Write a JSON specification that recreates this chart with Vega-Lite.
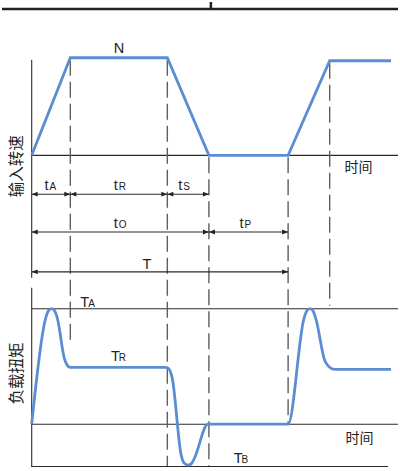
{
  "$schema": "https://vega.github.io/schema/vega-lite/v6.json",
  "width": 400,
  "height": 471,
  "autosize": {"type": "fit", "contains": "padding"},
  "padding": 0,
  "background": "white",
  "config": {"view": {"stroke": null}},
  "datasets": {
    "speed": [
      {"x": 30, "y": 154}, {"x": 69, "y": 56}, {"x": 167, "y": 56}, {"x": 209, "y": 154},
      {"x": 289, "y": 154}, {"x": 331, "y": 59}, {"x": 393, "y": 59}
    ],
    "torque": [
      {"x": 30, "y": 424}, {"x": 44, "y": 318}, {"x": 47, "y": 310}, {"x": 50, "y": 308},
      {"x": 53, "y": 310}, {"x": 56, "y": 318}, {"x": 63, "y": 358}, {"x": 66, "y": 365},
      {"x": 69, "y": 367}, {"x": 165, "y": 367}, {"x": 168, "y": 368}, {"x": 170, "y": 371},
      {"x": 172, "y": 378}, {"x": 181, "y": 455}, {"x": 184, "y": 463}, {"x": 188, "y": 465},
      {"x": 191, "y": 464}, {"x": 194, "y": 459}, {"x": 208, "y": 424}, {"x": 289, "y": 424},
      {"x": 305, "y": 318}, {"x": 308, "y": 310}, {"x": 311, "y": 308}, {"x": 314, "y": 310},
      {"x": 317, "y": 318}, {"x": 326, "y": 360}, {"x": 330, "y": 366}, {"x": 336, "y": 369},
      {"x": 393, "y": 369}
    ],
    "solid": [
      {"x": 30, "x2": 30, "y": 58, "y2": 277},
      {"x": 30, "x2": 400, "y": 154, "y2": 154},
      {"x": 30, "x2": 30, "y": 287, "y2": 467},
      {"x": 30, "x2": 400, "y": 308, "y2": 308},
      {"x": 30, "x2": 400, "y": 424, "y2": 424},
      {"x": 30, "x2": 390, "y": 466.5, "y2": 466.5}
    ],
    "frame": [
      {"x": 0, "x2": 400, "y": 7, "y2": 7},
      {"x": 211, "x2": 211, "y": 0, "y2": 7}
    ],
    "dashed": [
      {"x": 69, "y": 58, "y2": 340},
      {"x": 167, "y": 58, "y2": 466},
      {"x": 209, "y": 156, "y2": 466},
      {"x": 289, "y": 156, "y2": 424},
      {"x": 331, "y": 61, "y2": 305}
    ],
    "arrows": [
      {"x": 30, "x2": 69, "y": 193},
      {"x": 69, "x2": 167, "y": 193},
      {"x": 167, "x2": 209, "y": 193},
      {"x": 30, "x2": 209, "y": 231},
      {"x": 209, "x2": 289, "y": 231},
      {"x": 30, "x2": 289, "y": 271}
    ],
    "labels": [
      {"x": 113, "y": 51, "text": "N", "role": "main"},
      {"x": 43, "y": 189, "text": "t", "role": "main"},
      {"x": 48, "y": 189, "text": "A", "role": "sub"},
      {"x": 113, "y": 189, "text": "t", "role": "main"},
      {"x": 118, "y": 189, "text": "R", "role": "sub"},
      {"x": 178, "y": 189, "text": "t", "role": "main"},
      {"x": 183, "y": 189, "text": "S", "role": "sub"},
      {"x": 113, "y": 227, "text": "t", "role": "main"},
      {"x": 118, "y": 227, "text": "O", "role": "sub"},
      {"x": 240, "y": 227, "text": "t", "role": "main"},
      {"x": 245, "y": 227, "text": "P", "role": "sub"},
      {"x": 142, "y": 268, "text": "T", "role": "main"},
      {"x": 79, "y": 306, "text": "T", "role": "main"},
      {"x": 87, "y": 306, "text": "A", "role": "sub"},
      {"x": 110, "y": 361, "text": "T", "role": "main"},
      {"x": 118, "y": 361, "text": "R", "role": "sub"},
      {"x": 234, "y": 463, "text": "T", "role": "main"},
      {"x": 242, "y": 463, "text": "B", "role": "sub"}
    ],
    "cjk": [
      {"x": 360, "y": 166.5, "text": "时间"},
      {"x": 361, "y": 438.5, "text": "时间"}
    ],
    "ytitles": [
      {"x": 15, "y": 165, "text": "输入转速"},
      {"x": 15, "y": 373, "text": "负载扭矩"}
    ]
  },
  "layer": [
    {
      "data": {"name": "frame"},
      "mark": {"type": "rule", "color": "#222222", "strokeWidth": 2.5},
      "encoding": {
        "x": {"field": "x", "type": "quantitative", "scale": {"domain": [0, 400], "nice": false, "zero": false}, "axis": null},
        "x2": {"field": "x2"},
        "y": {"field": "y", "type": "quantitative", "scale": {"domain": [0, 471], "reverse": true, "nice": false, "zero": false}, "axis": null},
        "y2": {"field": "y2"}
      }
    },
    {
      "data": {"name": "solid"},
      "mark": {"type": "rule", "color": "#2a2a2a", "strokeWidth": 1.1},
      "encoding": {
        "x": {"field": "x", "type": "quantitative"},
        "x2": {"field": "x2"},
        "y": {"field": "y", "type": "quantitative"},
        "y2": {"field": "y2"}
      }
    },
    {
      "data": {"name": "dashed"},
      "mark": {"type": "rule", "color": "#5e5e5e", "strokeWidth": 1.4, "strokeDash": [16, 6]},
      "encoding": {
        "x": {"field": "x", "type": "quantitative"},
        "y": {"field": "y", "type": "quantitative"},
        "y2": {"field": "y2"}
      }
    },
    {
      "data": {"name": "arrows"},
      "mark": {"type": "rule", "color": "#2a2a2a", "strokeWidth": 1.1},
      "encoding": {
        "x": {"field": "x", "type": "quantitative"},
        "x2": {"field": "x2"},
        "y": {"field": "y", "type": "quantitative"}
      }
    },
    {
      "data": {"name": "arrows"},
      "mark": {"type": "point", "shape": "M0,0L1,-0.4L1,0.4Z", "filled": true, "color": "#222222", "size": 144, "opacity": 1},
      "encoding": {
        "x": {"field": "x", "type": "quantitative"},
        "y": {"field": "y", "type": "quantitative"}
      }
    },
    {
      "data": {"name": "arrows"},
      "mark": {"type": "point", "shape": "M0,0L-1,-0.4L-1,0.4Z", "filled": true, "color": "#222222", "size": 144, "opacity": 1},
      "encoding": {
        "x": {"field": "x2", "type": "quantitative"},
        "y": {"field": "y", "type": "quantitative"}
      }
    },
    {
      "data": {"name": "speed"},
      "mark": {"type": "line", "color": "#5b8dd3", "strokeWidth": 2.8, "strokeJoin": "miter"},
      "encoding": {
        "x": {"field": "x", "type": "quantitative"},
        "y": {"field": "y", "type": "quantitative"},
        "order": {"field": "x", "type": "quantitative"}
      }
    },
    {
      "data": {"name": "torque"},
      "mark": {"type": "line", "color": "#5b8dd3", "strokeWidth": 2.8, "interpolate": "monotone"},
      "encoding": {
        "x": {"field": "x", "type": "quantitative"},
        "y": {"field": "y", "type": "quantitative"}
      }
    },
    {
      "data": {"name": "labels"},
      "transform": [{"filter": "datum.role === 'main'"}],
      "mark": {"type": "text", "font": "Liberation Sans", "fontSize": 14.5, "align": "left", "baseline": "alphabetic", "color": "#222222"},
      "encoding": {
        "x": {"field": "x", "type": "quantitative"},
        "y": {"field": "y", "type": "quantitative"},
        "text": {"field": "text"}
      }
    },
    {
      "data": {"name": "labels"},
      "transform": [{"filter": "datum.role === 'sub'"}],
      "mark": {"type": "text", "font": "Liberation Sans", "fontSize": 10, "align": "left", "baseline": "alphabetic", "color": "#222222"},
      "encoding": {
        "x": {"field": "x", "type": "quantitative"},
        "y": {"field": "y", "type": "quantitative"},
        "text": {"field": "text"}
      }
    },
    {
      "data": {"name": "cjk"},
      "mark": {"type": "text", "font": "Noto Sans CJK SC", "fontSize": 14, "align": "center", "baseline": "middle", "color": "#222222"},
      "encoding": {
        "x": {"field": "x", "type": "quantitative"},
        "y": {"field": "y", "type": "quantitative"},
        "text": {"field": "text"}
      }
    },
    {
      "data": {"name": "ytitles"},
      "mark": {"type": "text", "font": "Noto Sans CJK SC", "fontSize": 15.5, "angle": 270, "align": "center", "baseline": "middle", "color": "#222222"},
      "encoding": {
        "x": {"field": "x", "type": "quantitative"},
        "y": {"field": "y", "type": "quantitative"},
        "text": {"field": "text"}
      }
    }
  ]
}
